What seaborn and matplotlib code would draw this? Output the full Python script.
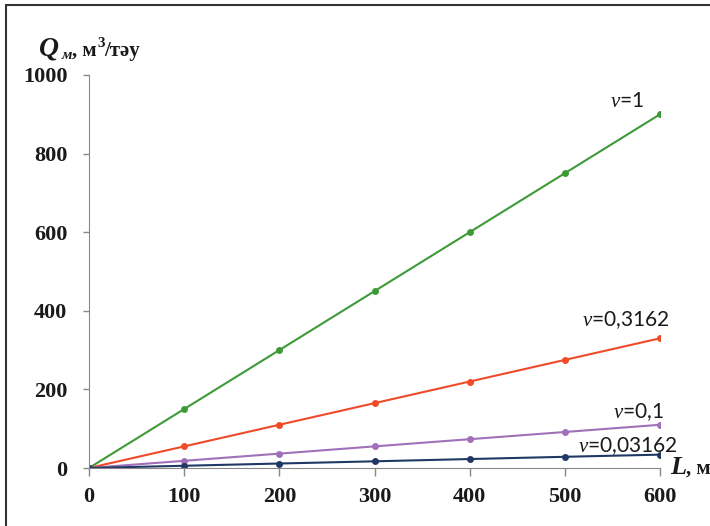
import numpy as np
import pandas as pd
import matplotlib.pyplot as plt
import seaborn as sns
from matplotlib.lines import Line2D

# data
L = [0, 100, 200, 300, 400, 500, 600]
q_1 = [0, 150, 300, 450, 600, 750, 900]
q_03162 = [0, 55, 110, 165, 220, 275, 330]
q_01 = [0, 18.3, 36.6, 55, 73.3, 91.6, 110]
q_003162 = [0, 5.7, 11.4, 17, 22.8, 28.5, 34]
series = ['1', '0,3162', '0,1', '0,03162']
colors = ['#3E9A38', '#F04A28', '#A070B8', '#1F3864']
x_ticks = [0, 100, 200, 300, 400, 500, 600]
y_ticks = [0, 200, 400, 600, 800, 1000]

df = pd.DataFrame({'L': L * 4,
                   'Q': q_1 + q_03162 + q_01 + q_003162,
                   'nu': np.repeat(series, len(L))})

sns.set_style('ticks')
plt.rcParams['mathtext.fontset'] = 'custom'
plt.rcParams['mathtext.it'] = 'Liberation Serif:italic'
plt.rcParams['mathtext.rm'] = 'Lato'

W, H = 710, 526
fig = plt.figure(figsize=(7.1, 5.26), dpi=100)
ax = fig.add_axes([89 / W, 1 - 468 / H, 571 / W, 393 / H])

sns.lineplot(data=df, x='L', y='Q', hue='nu', hue_order=series,
             palette=colors, marker='o', markersize=5, markeredgewidth=0,
             linewidth=1.5, legend=False, ax=ax)

ax.set_xlim(0, 600)
ax.set_ylim(0, 1000)
ax.set_xticks(x_ticks)
ax.set_yticks(y_ticks)
ax.set_xlabel('')
ax.set_ylabel('')
ax.tick_params(axis='both', colors='#888888', width=1, labelcolor='#1a1a1a')
ax.tick_params(axis='x', length=6, pad=8)
ax.tick_params(axis='y', length=4.5, pad=11)
for lab in ax.get_xticklabels() + ax.get_yticklabels():
    lab.set_fontfamily('Liberation Serif')
    lab.set_fontweight('bold')
    lab.set_fontsize(16)
for s in ['left', 'bottom']:
    ax.spines[s].set_color('#888888')
sns.despine(ax=ax)

# curve labels
offsets = [(-33, 13), (-34, 18), (-22, 13), (-32, 9)]
last = [q_1[-1], q_03162[-1], q_01[-1], q_003162[-1]]
for name, yv, off in zip(series, last, offsets):
    ax.annotate(r'$\mathit{\nu}$=' + name, xy=(L[-1], yv), xytext=off,
                textcoords='offset pixels', ha='center', va='center',
                fontsize=15, family='Lato', color='#1a1a1a',
                annotation_clip=False)


def ftext(x, y, s, size, style='normal'):
    fig.text(x / W, 1 - y / H, s, fontsize=size, family='Liberation Serif',
             fontweight='bold', style=style, va='baseline', color='#1a1a1a')


# axis titles
ftext(39, 56, 'Q', 20, 'italic')
ftext(62, 59, 'м', 11, 'italic')
ftext(72, 56, ', м', 15)
ftext(97, 47, '3', 11)
ftext(104, 56, '/тәу', 15)
ftext(670, 474, 'L', 19, 'italic')
ftext(686, 474, ', м', 15)

# frame lines on left and top
fig.add_artist(Line2D([0.008, 0.008], [0, 0.99], transform=fig.transFigure,
                      color='#333333', linewidth=1.5))
fig.add_artist(Line2D([0.008, 1.0], [0.99, 0.99], transform=fig.transFigure,
                      color='#333333', linewidth=1.5))

fig.savefig('out.png', dpi=100)
